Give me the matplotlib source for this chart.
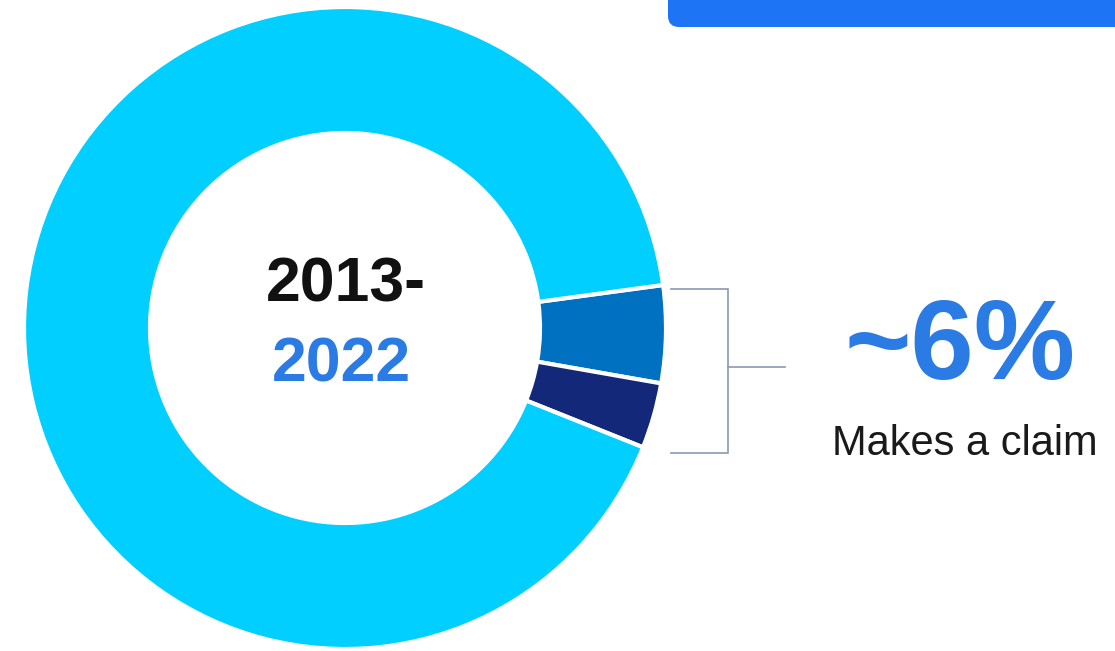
import matplotlib
matplotlib.use("Agg")
import matplotlib.pyplot as plt
from matplotlib.patches import FancyBboxPatch

# Share of policies by outcome over the period
categories = ["Claim (type A)", "Claim (type B)", "No claim"]
shares = [4.9, 3.3, 91.8]
colors = ["#0070C0", "#14287A", "#00CFFF"]

period_start = "2013-"
period_end = "2022"
headline = "~6%"
headline_caption = "Makes a claim"

W, H = 1115, 651
fig = plt.figure(figsize=(W / 100, H / 100), dpi=100)
ax = fig.add_axes([0, 0, 1, 1])

cx, cy, r_out, r_in = 345, H - 328, 321, 195
ax.pie(shares, colors=colors, center=(cx, cy), radius=r_out,
       startangle=7.7, counterclock=False,
       wedgeprops=dict(width=r_out - r_in, edgecolor="white", linewidth=3))

ax.set_xlim(0, W)
ax.set_ylim(0, H)
ax.set_aspect("equal")
ax.axis("off")

# banner at the top right
ax.add_patch(FancyBboxPatch((668, H - 27), 500, 60,
                            boxstyle="round,pad=0,rounding_size=11",
                            facecolor="#1D74F5", edgecolor="none"))

bold = dict(family=["Liberation Sans", "DejaVu Sans"], weight="bold")
ax.text(346, H - 302, period_start, ha="center", va="baseline",
        fontsize=45, color="#111111", **bold)
ax.text(341, H - 382, period_end, ha="center", va="baseline",
        fontsize=45, color="#2B7BE4", **bold)

# bracket around the claim wedges
bc = "#8A9AB0"
ax.plot([671, 728, 728, 671], [H - 289, H - 289, H - 453, H - 453],
        color=bc, lw=1.2, solid_joinstyle="miter")
ax.plot([728, 785], [H - 367, H - 367], color=bc, lw=1.2)

ax.text(960, H - 379, headline, ha="center", va="baseline",
        fontsize=82, color="#2B7BE4", **bold)
ax.text(965, H - 455, headline_caption, ha="center", va="baseline",
        fontsize=30, color="#1a1a1a",
        family=["Liberation Sans", "DejaVu Sans"])

fig.savefig("out.png", dpi=100)
